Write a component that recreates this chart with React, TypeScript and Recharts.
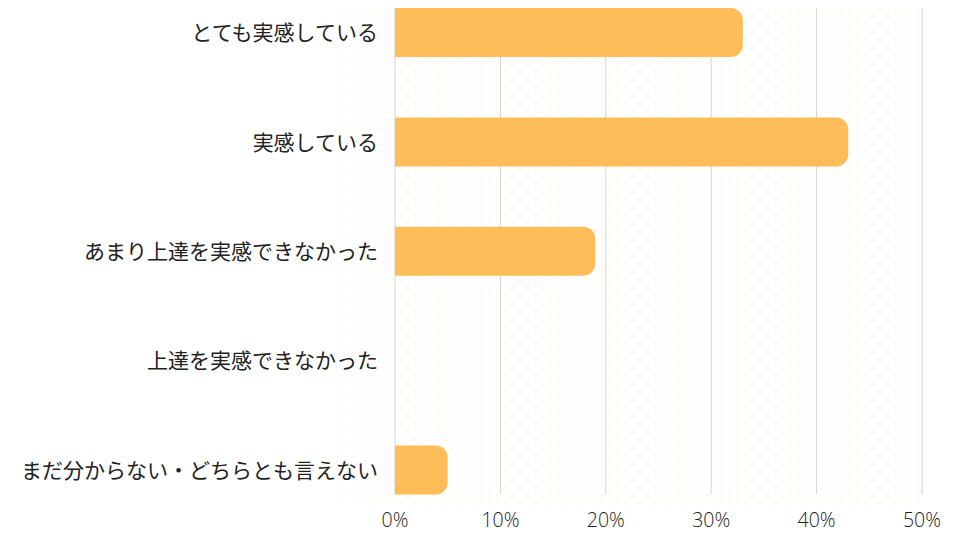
import React from 'react';
import { BarChart, Bar, XAxis, YAxis, CartesianGrid } from 'recharts';

const categories = [
  'とても実感している',
  '実感している',
  'あまり上達を実感できなかった',
  '上達を実感できなかった',
  'まだ分からない・どちらとも言えない',
];
const shares = [33, 43, 19, 0, 5];
const xTicks = [0, 10, 20, 30, 40, 50];

const data = categories.map((name, i) => ({ name, value: shares[i] }));

const dotLayer =
  'radial-gradient(circle, rgba(255,190,90,0.12) 1.6px, transparent 2.2px)';

export default function App() {
  return (
    <div style={{ position: 'fixed', left: 0, top: 0, width: 960, height: 540, background: '#fff' }}>
      <div
        style={{
          position: 'absolute',
          left: 295,
          top: 8,
          width: 627,
          height: 497,
          backgroundImage: `${dotLayer}, ${dotLayer}`,
          backgroundSize: '15px 16px, 15px 16px',
          backgroundPosition: '0px 0px, 7.5px 8px',
          WebkitMaskImage: 'linear-gradient(to right, transparent 0px, #000 110px)',
          maskImage: 'linear-gradient(to right, transparent 0px, #000 110px)',
        }}
      />
      <div style={{ position: 'absolute', left: 0, top: 0 }}>
        <BarChart
          layout="vertical"
          width={960}
          height={540}
          data={data}
          margin={{ top: 8, right: 38, bottom: 16, left: 0 }}
          barSize={49}
        >
          <CartesianGrid horizontal={false} stroke="#d2d2d2" />
          <XAxis
            type="number"
            domain={[0, 50]}
            ticks={xTicks}
            tickFormatter={(v) => `${v}%`}
            axisLine={false}
            tickLine={false}
            height={30}
            tick={{ fill: '#222', fontSize: 19.5, fontFamily: 'Open Sans', fontWeight: 300 }}
            tickMargin={13}
          />
          <YAxis
            type="category"
            dataKey="name"
            width={395}
            axisLine={false}
            tickLine={false}
            tickMargin={11}
            padding={{ top: -30, bottom: -31 }}
            tick={{ fill: '#222', fontSize: 21, fontFamily: 'Noto Sans CJK JP' }}
          />
          <Bar dataKey="value" fill="#FFBD5A" radius={[0, 12, 12, 0]} isAnimationActive={false} />
        </BarChart>
      </div>
    </div>
  );
}
